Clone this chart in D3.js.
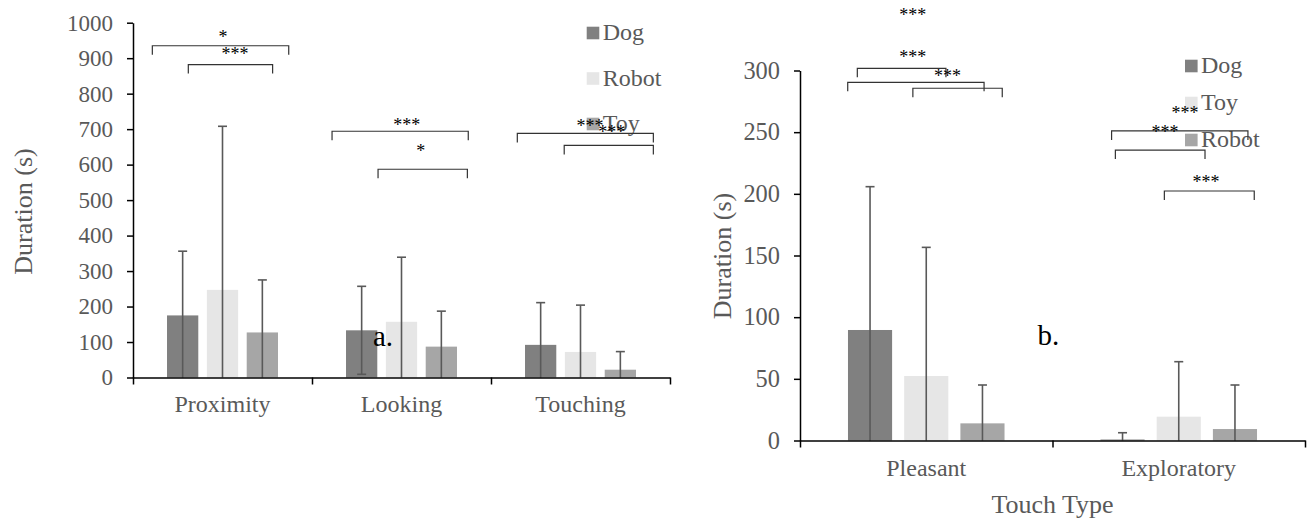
<!DOCTYPE html>
<html>
<head>
<meta charset="utf-8">
<script src="https://cdn.jsdelivr.net/npm/d3@7"></script>
<style>
  body { margin: 0; background: #fff; }
  svg, text { font-family: "Liberation Serif", "Times New Roman", serif; }
</style>
</head>
<body>
<div id="chart"></div>
<script>
// ---- panel a: duration per behaviour
const behaviours = ['Proximity', 'Looking', 'Touching']
const seriesA = ['Dog', 'Robot', 'Toy']
const dogA = [175, 133, 92]
const robotA = [247, 157, 72]
const toyA = [127, 87, 22]
const dogSdA = [181, 124, 119]
const robotSdA = [461, 182, 132]
const toySdA = [148, 100, 51]
const ticksA = d3.range(0, 1001, 100)

// ---- panel b: duration per touch type
const touchTypes = ['Pleasant', 'Exploratory']
const seriesB = ['Dog', 'Toy', 'Robot']
const dogB = [89.6, 0.8]
const toyB = [52.3, 19.3]
const robotB = [13.9, 9.3]
const dogSdB = [116.2, 5.5]
const toySdB = [104.3, 44.6]
const robotSdB = [31.1, 35.7]
const ticksB = d3.range(0, 301, 50)

// significance brackets, x in category units along the axis, y in seconds
const bracketsA = [
  {x1: 0.108, x2: 0.870, y: 935, label: '*', lx: 0.503, ly: 965},
  {x1: 0.309, x2: 0.780, y: 882, label: '***', lx: 0.570, ly: 918},
  {x1: 1.112, x2: 1.873, y: 694, label: '***', lx: 1.529, ly: 718},
  {x1: 1.369, x2: 1.868, y: 587, label: '*', lx: 1.607, ly: 643},
  {x1: 2.147, x2: 2.907, y: 688, label: '***', lx: 2.553, ly: 714},
  {x1: 2.409, x2: 2.907, y: 654, label: '***', lx: 2.674, ly: 697}
]
const bracketsB = [
  {x1: 0.227, x2: 0.578, y: 301.8, label: '***', lx: 0.447, ly: 312.6},
  {x1: 0.189, x2: 0.729, y: 290.4, label: '***', lx: 0.584, ly: 297.2},
  {x1: 0.447, x2: 0.801, y: 285.6, label: '***', lx: 0.447, ly: 346.9},
  {x1: 1.234, x2: 1.774, y: 251.0, label: '***', lx: 1.525, ly: 267.1},
  {x1: 1.249, x2: 1.604, y: 235.5, label: '***', lx: 1.446, ly: 251.8},
  {x1: 1.443, x2: 1.799, y: 202.3, label: '***', lx: 1.608, ly: 211.2}
]

const colors = ['#808080', '#e6e6e6', '#a6a6a6']
const grey = '#595959'
const serif = '"Liberation Serif", "Times New Roman", serif'

const svg = d3.select('#chart')
  .append('svg')
  .attr('width', 1309)
  .attr('height', 518)
  .attr('font-family', serif)

function panel(cfg) {
  const g = svg.append('g')

  // scales
  const x = d3.scaleBand().domain(cfg.categories).range([cfg.left, cfg.right])
  const pos = d3.scaleLinear().domain([0, cfg.categories.length]).range([cfg.left, cfg.right])
  const xs = d3.scaleBand()
    .domain(cfg.series)
    .range([x.bandwidth() * 0.19, x.bandwidth() * 0.81])
    .paddingInner(0.215)
  const y = d3.scaleLinear().domain([0, cfg.max]).range([cfg.bottom, cfg.top])
  const color = d3.scaleOrdinal().domain(cfg.series).range(colors)

  const rows = []
  cfg.series.forEach((s, si) => {
    cfg.categories.forEach((c, ci) => {
      rows.push({cat: c, ser: s, v: cfg.means[si][ci], sd: cfg.sds[si][ci]})
    })
  })

  // y axis
  const yAxis = g.append('g')
    .attr('transform', `translate(${cfg.left},0)`)
    .call(d3.axisLeft(y).tickValues(cfg.ticks).tickFormat(d3.format('d'))
      .tickSize(6).tickSizeOuter(0).tickPadding(14))
  yAxis.attr('font-family', serif)
  yAxis.select('.domain').attr('stroke', '#000').attr('stroke-width', 1.5)
  yAxis.selectAll('.tick line').attr('stroke', '#000').attr('stroke-width', 1.5)
  yAxis.selectAll('.tick text')
    .attr('fill', grey)
    .attr('font-size', cfg.tickFont)

  // bars
  g.append('g')
    .selectAll('rect')
    .data(rows)
    .join('rect')
    .attr('x', d => x(d.cat) + xs(d.ser))
    .attr('width', xs.bandwidth())
    .attr('y', d => y(d.v))
    .attr('height', d => y(0) - y(d.v))
    .attr('fill', d => color(d.ser))

  // error bars (mean + sd, lower part clipped at 0)
  const eb = g.append('g')
    .attr('stroke', grey)
    .attr('stroke-width', 1.6)
    .selectAll('g')
    .data(rows)
    .join('g')
    .attr('transform', d => `translate(${x(d.cat) + xs(d.ser) + xs.bandwidth() / 2},0)`)
  eb.append('line')
    .attr('y1', d => y(Math.max(0, d.v - d.sd)))
    .attr('y2', d => y(d.v + d.sd))
  eb.append('line')
    .attr('x1', -4.5).attr('x2', 4.5)
    .attr('y1', d => y(d.v + d.sd)).attr('y2', d => y(d.v + d.sd))
  eb.filter(d => d.v - d.sd >= 0)
    .append('line')
    .attr('x1', -4.5).attr('x2', 4.5)
    .attr('y1', d => y(d.v - d.sd)).attr('y2', d => y(d.v - d.sd))

  // x axis, ticks between categories
  const xAxis = g.append('g')
    .attr('transform', `translate(0,${y(0)})`)
    .call(d3.axisBottom(pos).tickValues(d3.range(cfg.categories.length + 1))
      .tickFormat('').tickSize(7).tickSizeOuter(0))
  xAxis.select('.domain').attr('stroke', '#000').attr('stroke-width', 1.5)
  xAxis.selectAll('.tick line').attr('stroke', '#000').attr('stroke-width', 1.5)

  g.append('g')
    .selectAll('text')
    .data(cfg.categories)
    .join('text')
    .attr('x', d => x(d) + x.bandwidth() / 2)
    .attr('y', y(0) + cfg.catOffset)
    .attr('text-anchor', 'middle')
    .attr('fill', grey)
    .attr('font-size', 24)
    .text(d => d)

  // y title
  g.append('text')
    .attr('transform', `translate(${cfg.titleX},${cfg.titleY}) rotate(-90)`)
    .attr('text-anchor', 'middle')
    .attr('fill', grey)
    .attr('font-size', 26)
    .text('Duration (s)')

  // panel letter
  g.append('text')
    .attr('x', cfg.letterX)
    .attr('y', cfg.letterY)
    .attr('fill', '#000')
    .attr('font-size', 29)
    .text(cfg.letter)

  // legend
  const leg = g.append('g')
    .selectAll('g')
    .data(cfg.series)
    .join('g')
    .attr('transform', (d, i) => `translate(${cfg.legX},${cfg.legY + i * cfg.legStep})`)
  leg.append('rect')
    .attr('x', 0).attr('y', -6.3)
    .attr('width', 12.6).attr('height', 12.6)
    .attr('fill', d => color(d))
  leg.append('text')
    .attr('x', 16)
    .attr('y', 7)
    .attr('fill', grey)
    .attr('font-size', 24)
    .text(d => d)

  // significance brackets
  const br = g.append('g')
    .selectAll('g')
    .data(cfg.brackets)
    .join('g')
  br.append('path')
    .attr('fill', 'none')
    .attr('stroke', '#333')
    .attr('stroke-width', 1.2)
    .attr('d', d => `M${pos(d.x1)},${y(d.y) + 9}V${y(d.y)}H${pos(d.x2)}V${y(d.y) + 9}`)
  br.append('text')
    .attr('x', d => pos(d.lx))
    .attr('y', d => y(d.ly) + 8)
    .attr('text-anchor', 'middle')
    .attr('fill', '#000')
    .attr('font-size', 18)
    .text(d => d.label)

  return {x, y, pos}
}

panel({
  categories: behaviours,
  series: seriesA,
  means: [dogA, robotA, toyA],
  sds: [dogSdA, robotSdA, toySdA],
  ticks: ticksA,
  max: 1000,
  left: 133, right: 670, top: 22.7, bottom: 377.5,
  tickFont: 23,
  catOffset: 34,
  titleX: 32, titleY: 211.5,
  letter: 'a.', letterX: 373, letterY: 346,
  legX: 586.7, legY: 33, legStep: 45.5,
  brackets: bracketsA
})

const b = panel({
  categories: touchTypes,
  series: seriesB,
  means: [dogB, toyB, robotB],
  sds: [dogSdB, toySdB, robotSdB],
  ticks: ticksB,
  max: 300,
  left: 800, right: 1305, top: 70.5, bottom: 440.5,
  tickFont: 24.4,
  catOffset: 35.5,
  titleX: 731, titleY: 256,
  letter: 'b.', letterX: 1037.5, letterY: 345,
  legX: 1185, legY: 66, legStep: 37,
  brackets: bracketsB
})

// x title for panel b
svg.append('text')
  .attr('x', b.pos(1))
  .attr('y', 513)
  .attr('text-anchor', 'middle')
  .attr('fill', grey)
  .attr('font-size', 26)
  .text('Touch Type')
</script>
</body>
</html>
